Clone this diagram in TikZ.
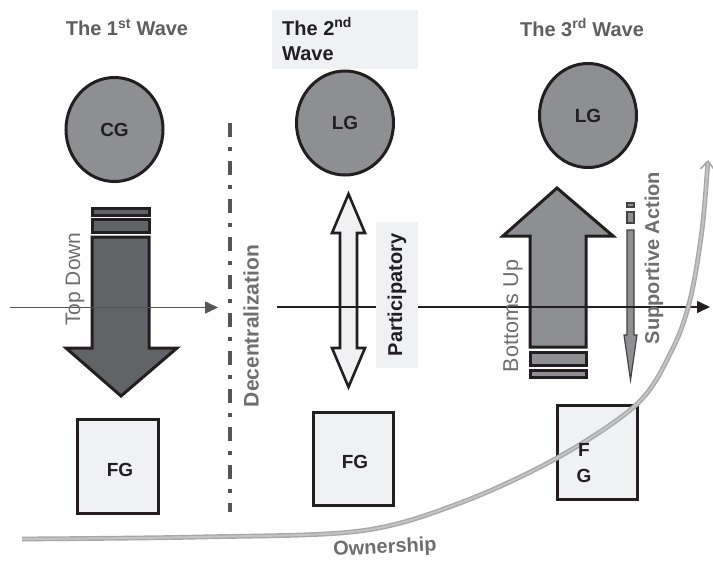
\documentclass[tikz,border=0pt]{standalone}
\usepackage{fontspec}
\setmainfont{Liberation Sans}
\usetikzlibrary{arrows.meta,shapes.geometric}
\definecolor{circgray}{HTML}{8E8F93}
\definecolor{darkarrow}{HTML}{626366}
\definecolor{boxfill}{HTML}{F0F1F3}
\definecolor{txtgray}{HTML}{6E6E70}
\definecolor{titlegray}{HTML}{5E5E60}
\definecolor{inkblack}{HTML}{231F20}
\definecolor{axisgray}{HTML}{555557}
\definecolor{owngray}{HTML}{A8A8A8}
\definecolor{ownlight}{HTML}{C4C4C4}
\begin{document}
\begin{tikzpicture}[x=1pt,y=-1pt,
  gov/.style={ellipse,draw=inkblack,line width=3pt,fill=circgray,minimum width=97pt,minimum height=104pt,inner sep=0pt,
    font=\fontsize{19}{22}\selectfont\bfseries,text=inkblack},
  fgbox/.style={rectangle,draw=inkblack,line width=3pt,fill=boxfill,inner sep=0pt},
  boxtext/.style={font=\fontsize{19}{26}\selectfont\bfseries,text=inkblack,inner sep=0pt},
  wavetitle/.style={font=\fontsize{20}{24}\selectfont\bfseries,text=titlegray,inner sep=0pt},
  bigarrow/.style={draw=inkblack,line width=3pt,line join=miter},
  thinarrow/.style={draw=inkblack!85,line width=1.2pt,fill=circgray,line join=miter},
  sidelabel/.style={rotate=90,font=\fontsize{21}{24}\selectfont,text=txtgray,inner sep=0pt},
  sideboldlabel/.style={rotate=90,font=\fontsize{20}{24}\selectfont\bfseries,text=txtgray,inner sep=0pt},
  axisline/.style={line width=1.6pt},
  ownline/.style={draw=owngray,line width=1.4pt,double=ownlight,double distance=2pt,
    -{Straight Barb[length=8pt,width=14pt,line width=1.6pt]}}
]
\fill[white] (0,0) rectangle (713,562);
\useasboundingbox (0,0) rectangle (713,562);

% titles
\node[wavetitle] (t1) at (127,27.5) {The 1\textsuperscript{st} Wave};
\node[wavetitle] (t3) at (582,27.5) {The 3\textsuperscript{rd} Wave};
\node[fill=boxfill,minimum width=146pt,minimum height=59pt,inner sep=0pt] (t2box) at (345,39.5) {};
\node[font=\fontsize{20}{25}\selectfont\bfseries,text=inkblack,align=left,anchor=west,inner sep=0pt] (t2) at (282,39) {The 2\textsuperscript{nd}\\Wave};

% governments
\node[gov] (cg) at (114.5,129.5) {CG};
\node[gov] (lg2) at (345,123) {LG};
\node[gov] (lg3) at (588,115.5) {LG};

% first wave: top down arrow
\draw[bigarrow,fill=darkarrow] (92,208) rectangle (149,215);
\draw[bigarrow,fill=darkarrow] (92,219) rectangle (149,232);
\draw[bigarrow,fill=darkarrow] (92,237) -- (149,237) -- (149,348) -- (177,348) -- (121,396) -- (66,348) -- (92,348) -- cycle;

% second wave: participatory double arrow
\draw[draw=inkblack,line width=2.6pt,fill=boxfill,line join=miter]
  (340,233) -- (332,233) -- (348.5,194) -- (365,233) -- (357,233) -- (357,348) -- (365,348) -- (348.5,387) -- (332,348) -- (340,348) -- cycle;

% third wave: bottoms up arrow
\draw[bigarrow,fill=circgray] (530,347) -- (586,347) -- (586,236) -- (613,236) -- (557,188) -- (503,236) -- (530,236) -- cycle;
\draw[bigarrow,fill=circgray] (530,352) rectangle (586,365);
\draw[bigarrow,fill=circgray] (530,370) rectangle (586,377);

% supportive action arrow
\draw[thinarrow] (627,203) rectangle (634,207);
\draw[thinarrow] (627,212) rectangle (634,223);
\draw[thinarrow] (627,230) -- (634,230) -- (634,335) -- (637,335) -- (630.5,380) -- (624,335) -- (627,335) -- cycle;

% axis
\coordinate (a1s) at (10,307.5);
\coordinate (a1e) at (218,307.5);
\coordinate (a2s) at (277,307);
\coordinate (a2e) at (710,307);
\draw[axisline,draw=axisgray,-{Triangle[length=13pt,width=12pt]}] (a1s) -- (a1e);
\draw[axisline,draw=inkblack,-{Triangle[length=13pt,width=12pt]}] (a2s) -- (a2e);

% participatory label
\node[rotate=90,fill=boxfill,minimum width=146pt,minimum height=42pt,inner sep=0pt,
  font=\fontsize{20}{24}\selectfont\bfseries,text=inkblack] (part) at (397,295) {Participatory};

% decentralization divider
\coordinate (d1) at (230,123);
\coordinate (d2) at (230,512);
\draw[draw=axisgray,line width=4.5pt,dash pattern=on 14pt off 10pt on 4pt off 10pt] (d1) -- (d2);
\node[sideboldlabel,font=\fontsize{21}{24}\selectfont\bfseries] (dec) at (251,326) {Decentralization};

% FG boxes
\node[fgbox,minimum width=81pt,minimum height=94pt] (fg1) at (117.5,466) {};
\node[boxtext] (fg1t) at (120,470) {FG};
\node[fgbox,minimum width=80pt,minimum height=93pt] (fg2) at (353,458.5) {};
\node[boxtext] (fg2t) at (355,462) {FG};
\node[fgbox,minimum width=80pt,minimum height=94pt] (fg3) at (597,452) {};

% ownership curve
\draw[ownline] plot[smooth,tension=0.55] coordinates {(22,539) (200,537) (360,531) (460,503) (557,458) (637,404) (672,350) (690,300) (702,230) (708,160)};
\node[boxtext,align=center] (fg3t) at (584,463) {F\\G};

% side labels
\node[sidelabel] (td) at (75,279) {Top Down};
\node[sidelabel,font=\fontsize{21.5}{24}\selectfont] (bu) at (513,316) {Bottoms Up};
\node[sideboldlabel] (sa) at (654,258) {Supportive Action};
\node[font=\fontsize{20}{24}\selectfont\bfseries,text=txtgray,rotate=3,inner sep=0pt] (own) at (385,548) {Ownership};
\end{tikzpicture}
\end{document}
